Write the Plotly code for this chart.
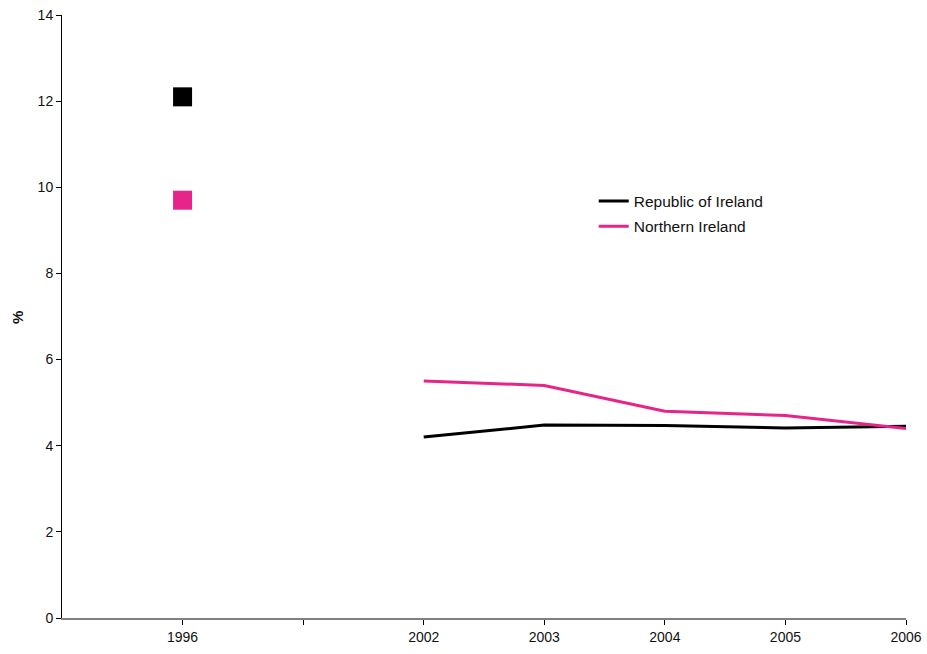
import plotly.graph_objects as go

categories = ['1996', '', '2002', '2003', '2004', '2005', '2006']
roi_values = [12.1, None, 4.2, 4.48, 4.47, 4.41, 4.45]
ni_values = [9.7, None, 5.5, 5.4, 4.8, 4.7, 4.4]
y_ticks = [0, 2, 4, 6, 8, 10, 12, 14]

positions = list(range(1, len(categories) + 1))
BLACK = '#000000'
PINK = '#E6248A'
FONT = 'Arial, Liberation Sans, sans-serif'

fig = go.Figure()

# Republic of Ireland line (2002-2006)
fig.add_trace(go.Scatter(
    x=positions[2:], y=roi_values[2:], mode='lines',
    line=dict(color=BLACK, width=3), name='Republic of Ireland',
    legendgroup='roi'))
fig.add_trace(go.Scatter(
    x=positions[2:], y=ni_values[2:], mode='lines',
    line=dict(color=PINK, width=3), name='Northern Ireland',
    legendgroup='ni'))

# 1996 isolated markers
fig.add_trace(go.Scatter(
    x=[positions[0]], y=[roi_values[0]], mode='markers',
    marker=dict(symbol='square', size=19, color=BLACK), showlegend=False))
fig.add_trace(go.Scatter(
    x=[positions[0]], y=[ni_values[0]], mode='markers',
    marker=dict(symbol='square', size=19, color=PINK), showlegend=False))

fig.update_layout(
    template='none',
    width=927, height=654,
    margin=dict(l=62, r=21, t=15, b=36, pad=0),
    paper_bgcolor='white', plot_bgcolor='white',
    font=dict(family=FONT, size=14, color='#111111'),
    showlegend=True,
    legend=dict(x=0.630, y=0.719, xanchor='left', yanchor='top',
                bgcolor='rgba(0,0,0,0)', font=dict(size=15.5),
                itemwidth=30, tracegroupgap=2),
    xaxis=dict(range=[0, 7], tickvals=positions, ticktext=categories,
               automargin=False,
               showgrid=False, zeroline=False, showline=True,
               linecolor='#808080', linewidth=1.5,
               ticks='outside', ticklen=5, tickcolor='#000000',
               tickfont=dict(size=14)),
    yaxis=dict(range=[0, 14], tickvals=y_ticks, automargin=False,
               showgrid=False, zeroline=False, showline=True,
               linecolor='#000000', linewidth=1,
               ticks='outside', ticklen=5, tickcolor='#000000',
               tickfont=dict(size=14)),
    annotations=[dict(text='<b>%</b>', xref='paper', yref='paper',
                      x=(17 - 62) / 844, y=(618 - 318) / 603,
                      xanchor='center', yanchor='middle',
                      textangle=-90, showarrow=False,
                      font=dict(size=15, family=FONT))]
)

fig.write_html('out.html')
